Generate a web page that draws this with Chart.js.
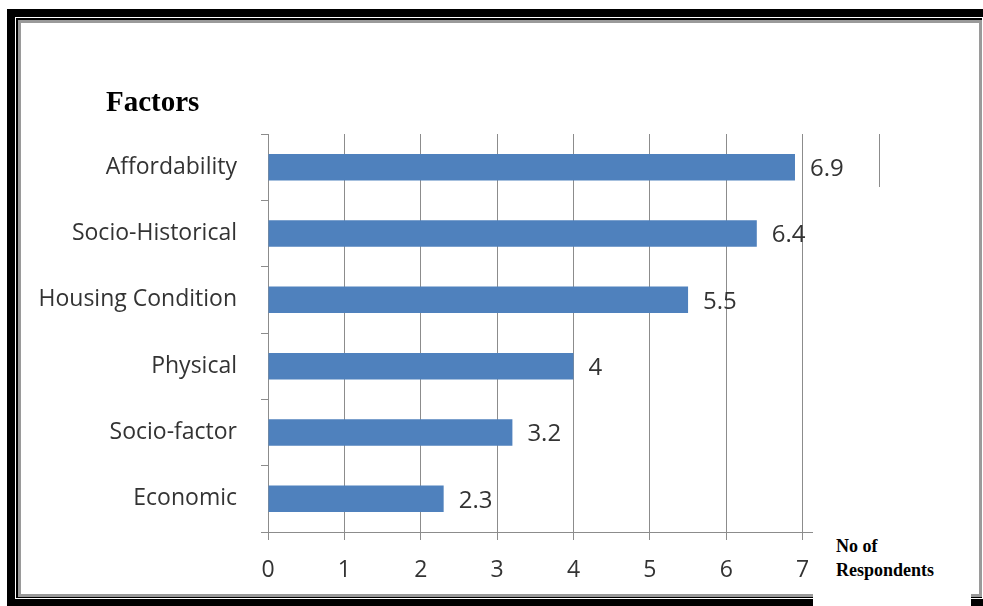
<!DOCTYPE html>
<html>
<head>
<meta charset="utf-8">
<script src="https://cdn.jsdelivr.net/npm/chart.js@4"></script>
<style>
    html, body { margin: 0; padding: 0; background: #fff; overflow: hidden; }
    #page { position: relative; width: 983px; height: 606px; overflow: hidden; }
    .fr { position: absolute; box-sizing: border-box; }
    #outerBlack { left: 7px; top: 9px; width: 1000px; height: 620px; background: #000; }
    #whiteGap { left: 15px; top: 17px; width: 990px; height: 582px; background: #fff; }
    #innerBlack { left: 16px; top: 18px; width: 966px; height: 580px; background: #000; }
    #innerGray { left: 18px; top: 20px; width: 964px; height: 577px; border: 3px solid #9a9a9a; background: #fff; }
    #chartBox { position: absolute; left: 0; top: 0; width: 983px; height: 606px; }
    #title { position: absolute; left: 106px; top: 85px; font: bold 29px "Liberation Serif", serif; color: #000; }
    #unitBox { position: absolute; left: 813px; top: 187px; width: 158px; height: 430px; background: #fff; }
    #unitText { position: absolute; left: 23px; top: 347px; font: bold 18px/24px "Liberation Serif", serif; color: #000; }
</style>
</head>
<body>
<div id="page">
    <div class="fr" id="outerBlack"></div>
    <div class="fr" id="whiteGap"></div>
    <div class="fr" id="innerBlack"></div>
    <div class="fr" id="innerGray"></div>
    <div id="chartBox"><canvas id="myChart" width="983" height="606"></canvas></div>
    <div id="title">Factors</div>
    <div id="unitBox"><div id="unitText">No of<br>Respondents</div></div>
</div>
<script>
const factorNames = ['Affordability', 'Socio-Historical', 'Housing Condition', 'Physical', 'Socio-factor', 'Economic'];
const respondentValues = [6.9, 6.4, 5.5, 4, 3.2, 2.3];
const xTickValues = [0, 1, 2, 3, 4, 5, 6, 7];

const gridGray = '#8c8c8c';
const textGray = '#333333';

// draws the numbers at the end of each bar
const valueLabels = {
    id: 'valueLabels',
    afterDatasetsDraw(chart) {
        const ctx = chart.ctx;
        const meta = chart.getDatasetMeta(0);
        ctx.save();
        ctx.font = '24px "Open Sans"';
        ctx.fillStyle = textGray;
        ctx.textAlign = 'left';
        ctx.textBaseline = 'middle';
        meta.data.forEach((bar, i) => {
            ctx.fillText(String(respondentValues[i]), bar.x + 15, bar.y + 2);
        });
        ctx.restore();
    }
};

new Chart(document.getElementById('myChart'), {
    type: 'bar',
    data: {
        labels: factorNames,
        datasets: [{
            data: respondentValues,
            backgroundColor: '#4f81bd',
            borderWidth: 0,
            barPercentage: 0.4,
            categoryPercentage: 1
        }]
    },
    options: {
        indexAxis: 'y',
        responsive: false,
        animation: false,
        devicePixelRatio: 1,
        layout: { padding: { top: 134, right: 104, left: 0, bottom: 0 } },
        plugins: { legend: { display: false }, tooltip: { enabled: false } },
        scales: {
            x: {
                min: 0, max: 8,
                afterFit: s => { s.height = 74; },
                ticks: {
                    stepSize: 1,
                    padding: 17,
                    color: textGray,
                    font: { family: 'Open Sans', size: 23 },
                    callback: v => xTickValues.includes(v) ? v : ''
                },
                grid: { color: gridGray, lineWidth: 1, tickLength: 8 },
                border: { color: gridGray, width: 1 }
            },
            y: {
                afterFit: s => { s.width = 268; },
                ticks: {
                    padding: 24,
                    color: textGray,
                    font: { family: 'Open Sans', size: 23 }
                },
                grid: { drawOnChartArea: false, color: gridGray, tickLength: 7, offset: true },
                border: { color: gridGray, width: 1 }
            }
        }
    },
    plugins: [valueLabels]
});
</script>
</body>
</html>
